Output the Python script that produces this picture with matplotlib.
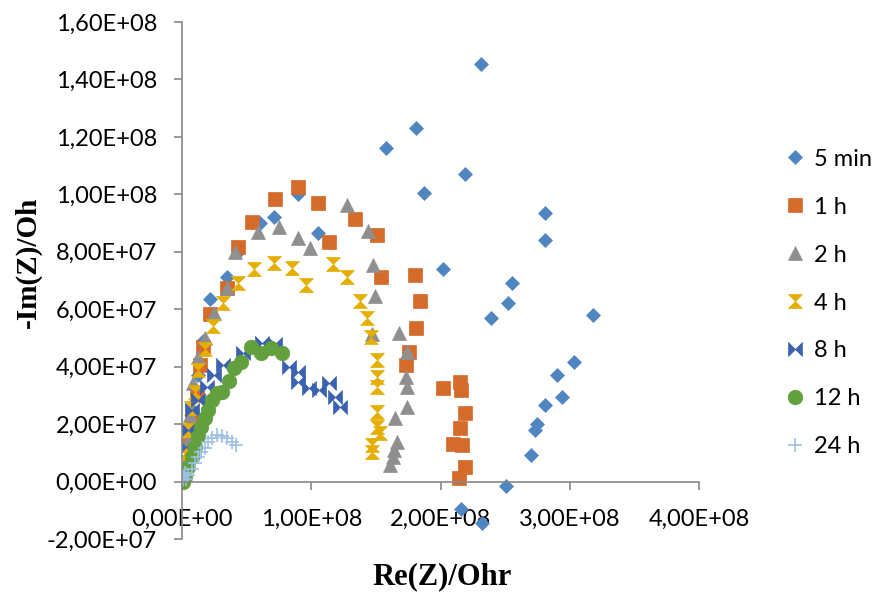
import numpy as np
import matplotlib
matplotlib.use("Agg")
import matplotlib.pyplot as plt
from matplotlib.path import Path

# values: Re in 1e8 Ohm, -Im in 1e7 Ohm
re_5min = [0.01, 0.04, 0.08, 0.12, 0.16, 0.216, 0.35, 0.43, 0.60, 0.71, 0.90, 1.05, 1.58, 1.81, 1.87,
           2.19, 2.31, 2.02, 2.81, 2.81, 2.55, 2.52, 2.39, 3.18, 3.03, 2.90, 2.94, 2.81, 2.75, 2.73,
           2.70, 2.51, 2.16, 2.32]
im_5min = [0.3, 1.3, 2.5, 3.7, 4.9, 6.37, 7.13, 8.0, 9.0, 9.2, 10.0, 8.66, 11.6, 12.3, 10.05,
           10.7, 14.55, 7.4, 9.35, 8.4, 6.9, 6.2, 5.7, 5.8, 4.17, 3.72, 2.96, 2.68, 2.0, 1.8,
           0.94, -0.17, -0.97, -1.43]

re_1h = [0.01, 0.03, 0.054, 0.085, 0.116, 0.14, 0.16, 0.216, 0.35, 0.43, 0.54, 0.72, 0.90, 1.05,
         1.14, 1.34, 1.51, 1.54, 1.80, 1.84, 1.81, 1.76, 1.73, 2.02, 2.15, 2.16, 2.19, 2.15, 2.10,
         2.17, 2.19, 2.14]
im_1h = [0.2, 0.59, 1.29, 2.16, 3.0, 4.07, 4.7, 5.84, 6.75, 8.17, 9.04, 9.84, 10.26, 9.7,
         8.35, 9.14, 8.6, 7.13, 7.2, 6.3, 5.35, 4.5, 4.07, 3.27, 3.48, 3.2, 2.4, 1.88, 1.32,
         1.29, 0.49, 0.14]

re_2h = [0.01, 0.02, 0.05, 0.06, 0.085, 0.124, 0.18, 0.25, 0.35, 0.41, 0.59, 0.75, 0.90, 0.99,
         1.28, 1.44, 1.48, 1.49, 1.47, 1.68, 1.74, 1.73, 1.74, 1.74, 1.65, 1.66, 1.64, 1.63, 1.61]
im_2h = [0.3, 0.77, 1.46, 2.33, 3.44, 4.35, 5.0, 5.88, 6.75, 8.0, 8.7, 8.87, 8.49, 8.14,
         9.63, 8.73, 7.55, 6.47, 5.15, 5.18, 4.52, 3.65, 3.3, 2.6, 2.23, 1.36, 1.11, 0.87, 0.59]

re_4h = [0.005, 0.02, 0.04, 0.07, 0.10, 0.12, 0.18, 0.24, 0.32, 0.43, 0.56, 0.71, 0.85, 0.96,
         1.17, 1.28, 1.38, 1.43, 1.46, 1.51, 1.51, 1.51, 1.51, 1.51, 1.53, 1.47, 1.47]
im_4h = [0.3, 1.0, 1.8, 2.57, 3.13, 3.9, 4.6, 5.4, 6.2, 6.9, 7.4, 7.6, 7.45, 6.85,
         7.57, 7.13, 6.3, 5.7, 5.04, 4.24, 3.65, 3.3, 2.43, 1.91, 1.7, 1.29, 1.04]

re_8h = [0.01, 0.03, 0.05, 0.08, 0.12, 0.19, 0.25, 0.32, 0.47, 0.62, 0.72, 0.83, 0.90, 0.90,
         0.98, 1.06, 1.14, 1.18, 1.22]
im_8h = [0.4, 1.2, 1.8, 2.5, 2.85, 3.3, 3.72, 4.07, 4.49, 4.83, 4.8, 4.0, 3.83, 3.48,
         3.27, 3.2, 3.44, 2.96, 2.61]

re_12h = [0.005, 0.02, 0.05, 0.08, 0.10, 0.12, 0.15, 0.18, 0.20, 0.23, 0.27, 0.31, 0.36, 0.40,
          0.46, 0.53, 0.61, 0.69, 0.77]
im_12h = [0.0, 0.17, 0.52, 0.87, 1.22, 1.57, 1.91, 2.23, 2.5, 2.85, 3.1, 3.13, 3.51, 3.96,
          4.17, 4.7, 4.49, 4.66, 4.49]

re_24h = [0.002, 0.005, 0.01, 0.02, 0.03, 0.05, 0.08, 0.10, 0.12, 0.15, 0.18, 0.20, 0.23, 0.27,
          0.31, 0.35, 0.39, 0.42]
im_24h = [0.05, 0.2, 0.1, 0.3, 0.1, 0.24, 0.42, 0.66, 0.87, 1.04, 1.18, 1.36, 1.53, 1.63,
          1.57, 1.53, 1.36, 1.29]

labels = ["5 min", "1 h", "2 h", "4 h", "8 h", "12 h", "24 h"]
xticks = [0, 1e8, 2e8, 3e8, 4e8]
yticks = [-2e7, 0, 2e7, 4e7, 6e7, 8e7, 1e8, 1.2e8, 1.4e8, 1.6e8]

hourglass = Path([(-1, 1), (1, 1), (-1, -1), (1, -1), (-1, 1)])
bowtie = Path([(-1, 1), (-1, -1), (1, 1), (1, -1), (-1, 1)])

series = [
    (re_5min, im_5min, "D", "#4F86C0", 7.5),
    (re_1h, im_1h, "s", "#D46B2A", 10.5),
    (re_2h, im_2h, "^", "#8F8F8F", 10.5),
    (re_4h, im_4h, hourglass, "#E5AE00", 10),
    (re_8h, im_8h, bowtie, "#3A62B0", 10),
    (re_12h, im_12h, "o", "#62A03E", 10.5),
    (re_24h, im_24h, "+", "#9DC0E4", 10),
]

plt.rcParams["font.family"] = ["Lato", "DejaVu Sans"]

fig = plt.figure(figsize=(8.75, 5.93), dpi=100)
ax = fig.add_axes([182 / 875, 1 - 539 / 593, (699 - 182) / 875, (539 - 22) / 593])

for (xs, ys, mk, col, ms), lab in zip(series, labels):
    xs = np.array(xs) * 1e8
    ys = np.array(ys) * 1e7
    if mk == "+":
        ax.plot(xs, ys, ls="none", marker=mk, color=col, ms=ms, mew=1.2, label=lab)
    else:
        ax.plot(xs, ys, ls="none", marker=mk, color=col, mec=col, ms=ms, mew=0.5, label=lab)

ax.set_xlim(0, 4e8)
ax.set_ylim(-2e7, 1.6e8)
ax.set_xticks(xticks)
ax.set_yticks(yticks)
fmt = lambda v: f"{v:.2E}".replace(".", ",")
ax.set_xticklabels([fmt(v) for v in xticks])
ax.set_yticklabels([fmt(v) for v in yticks])

for s in ["top", "right"]:
    ax.spines[s].set_visible(False)
ax.spines["bottom"].set_position(("data", 0))
for s in ["left", "bottom"]:
    ax.spines[s].set_color("#888888")
    ax.spines[s].set_linewidth(1.2)
ax.tick_params(axis="both", colors="#888888", labelcolor="black", labelsize=17, length=6, width=1.2)
ax.tick_params(axis="x", pad=14)
ax.tick_params(axis="y", pad=12)

fig.text(28 / 875, 1 - 262 / 593, "-Im(Z)/Oh", rotation=90, ha="center", va="center",
         fontsize=21, fontweight="bold", family="Liberation Serif")
fig.text(442 / 875, 1 - 577 / 593, "Re(Z)/Ohr", ha="center", va="center",
         fontsize=22, fontweight="bold", family="Liberation Serif")

fig.legend(loc="center left", bbox_to_anchor=(783 / 875, 1 - 303 / 593), frameon=False,
           fontsize=17, labelspacing=1.14, handletextpad=0.3, handlelength=1.0,
           borderpad=0, borderaxespad=0, numpoints=1)

fig.savefig("out.png", dpi=100)
